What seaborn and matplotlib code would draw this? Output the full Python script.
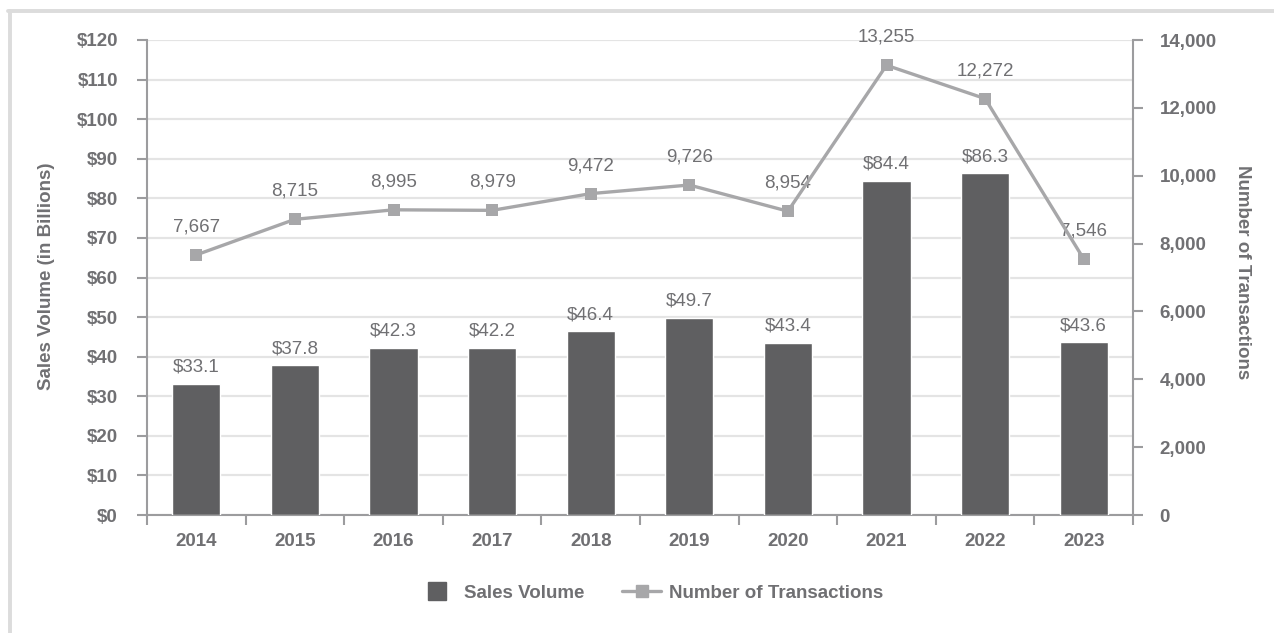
import matplotlib
matplotlib.use("Agg")
import matplotlib.pyplot as plt
import seaborn as sns
import pandas as pd
import numpy as np
from matplotlib.lines import Line2D

years = ["2014", "2015", "2016", "2017", "2018", "2019", "2020", "2021", "2022", "2023"]
sales_volume = [33.1, 37.8, 42.3, 42.2, 46.4, 49.7, 43.4, 84.4, 86.3, 43.6]
transactions = [7667, 8715, 8995, 8979, 9472, 9726, 8954, 13255, 12272, 7546]
left_ticks = [0, 10, 20, 30, 40, 50, 60, 70, 80, 90, 100, 110, 120]
right_ticks = [0, 2000, 4000, 6000, 8000, 10000, 12000, 14000]

sns.set_theme(style="white")
plt.rcParams["font.family"] = ["Liberation Sans", "DejaVu Sans"]

BAR = "#5f5f61"
LINE = "#a7a7a9"
TXT = "#707073"
SPINE = "#9c9c9e"
GRID = "#e4e4e4"
FS = 13.5

df = pd.DataFrame({"year": years, "sales": sales_volume,
                   "idx": np.arange(len(years)), "trans": transactions})

fig = plt.figure(figsize=(12.74, 6.33), dpi=100)
ax = fig.add_axes([147/1274, 118/633, 986/1274, 475/633])

sns.barplot(data=df, x="year", y="sales", color=BAR, width=0.49,
            saturation=1, ax=ax, zorder=3)
ax.set_xlim(-0.5, len(years) - 0.5)
ax.set_ylim(0, 120)
ax.set_yticks(left_ticks)
ax.set_yticklabels([f"${t}" for t in left_ticks])
ax.grid(axis="y", color=GRID, lw=1.6, zorder=0)
ax.set_axisbelow(True)
ax.set_xlabel("")
ax.set_ylabel("")

ax.bar_label(ax.containers[0], labels=[f"${v:.1f}" for v in sales_volume],
             padding=6, fontsize=FS, color=TXT)

ax2 = ax.twinx()
sns.lineplot(data=df, x="idx", y="trans", color=LINE, lw=2.4, marker="s",
             markersize=9, markeredgewidth=0, ax=ax2, zorder=4)
ax2.set_ylim(0, 14000)
ax2.set_yticks(right_ticks)
ax2.set_yticklabels([f"{t:,}" for t in right_ticks])
ax2.set_xlabel("")
ax2.set_ylabel("")
for i, v in enumerate(transactions):
    ax2.annotate(f"{v:,}", (i, v), xytext=(0, 14), textcoords="offset points",
                 ha="center", va="bottom", fontsize=FS, color=TXT)

# spines
for a in (ax, ax2):
    a.spines["top"].set_visible(False)
    for s in ("left", "right", "bottom"):
        a.spines[s].set_color(SPINE)
        a.spines[s].set_linewidth(1.5)
ax.spines["right"].set_visible(False)
ax2.spines["left"].set_visible(False)
ax2.spines["bottom"].set_visible(False)

# ticks
ax.set_xticks(np.arange(len(years)))
ax.set_xticklabels(years)
ax.set_xticks(np.arange(-0.5, len(years)), minor=True)
ax.tick_params(axis="x", which="major", length=0, pad=13, labelsize=FS,
               labelcolor=TXT)
ax.tick_params(axis="x", which="minor", length=7, width=1.5, color=SPINE,
               direction="out", bottom=True)
ax.tick_params(axis="y", length=7, width=1.5, color=SPINE, direction="out",
               left=True, pad=14, labelsize=FS, labelcolor=TXT)
ax2.tick_params(axis="y", length=7, width=1.5, color=SPINE, direction="out",
                right=True, pad=12, labelsize=FS, labelcolor=TXT)
for lab in ax.get_xticklabels() + ax.get_yticklabels() + ax2.get_yticklabels():
    lab.set_fontweight("bold")

# axis titles
fig.text(47/1274, 1 - 276/633, "Sales Volume (in Billions)", rotation=90,
         ha="center", va="center", fontsize=FS, fontweight="bold", color=TXT)
fig.text(1243/1274, 1 - 272/633, "Number of Transactions", rotation=270,
         ha="center", va="center", fontsize=FS, fontweight="bold", color=TXT)

# legend
handles = [Line2D([], [], color=BAR, marker="s", markersize=13, lw=0),
           Line2D([], [], color=LINE, lw=2.4, marker="s", markersize=9)]
leg = fig.legend(handles, ["Sales Volume", "Number of Transactions"],
                 loc="center", bbox_to_anchor=(650/1274, 1 - 593/633), ncol=2,
                 frameon=False, fontsize=FS, handlelength=2.1,
                 handletextpad=0.4, columnspacing=2.0)
for t in leg.get_texts():
    t.set_color(TXT)
    t.set_fontweight("bold")

# outer frame (top and left edges)
fig.add_artist(Line2D([9.5/1274, 9.5/1274], [0, 1 - 11/633],
                      transform=fig.transFigure, color="#dcdcdc", lw=2.8))
fig.add_artist(Line2D([8/1274, 1], [1 - 11/633, 1 - 11/633],
                      transform=fig.transFigure, color="#dcdcdc", lw=2.8))

fig.savefig("out.png", dpi=100)
